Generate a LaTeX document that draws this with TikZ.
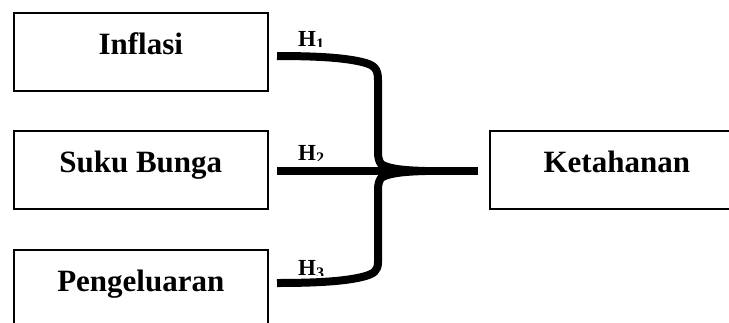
\documentclass[tikz,border=0pt]{standalone}
\usepackage{fontspec}
\setmainfont{Liberation Serif}
\begin{document}
\begin{tikzpicture}[x=1pt,y=-1pt,
  box/.style={draw, line width=1.6pt, minimum width=254pt, minimum height=78pt,
    inner sep=0pt, text height=21pt, text depth=15pt,
    font=\fontsize{31}{36}\selectfont\bfseries, anchor=north west},
  hlab/.style={font=\fontsize{23}{27}\selectfont\bfseries, anchor=base west, inner sep=0pt},
  conn/.style={line width=8pt, line join=round}]
\useasboundingbox (0,0) rectangle (729,322);
\clip (0,0) rectangle (729,322);
\fill[white] (0,0) rectangle (729,322);
% boxes
\node[box] (inf)  at (13,12)  {Inflasi};
\node[box] (suku) at (13,130) {Suku Bunga};
\node[box] (peng) at (13,249) {Pengeluaran};
\node[box] (ket)  at (489,130) {Ketahanan};
% free ends
\coordinate (s1) at (277,56);
\coordinate (s2) at (277,171);
\coordinate (s3) at (277,283);
\coordinate (e)  at (478,171);
% connectors
\draw[conn] (s1) .. controls (320,56) and (345,58) .. (362,62)
  .. controls (374,65) and (378,68) .. (378,80) -- (378,152)
  .. controls (378,163) and (382,168) .. (392,169);
\draw[conn] (s3) .. controls (320,283) and (345,281) .. (362,277)
  .. controls (374,274) and (378,271) .. (378,262) -- (378,190)
  .. controls (378,179) and (382,174) .. (392,173);
\draw[conn] (s2) -- (e);
\fill (378,157) .. controls (386,165) and (400,167) .. (445,167.3)
  -- (445,174.7) .. controls (400,175) and (386,177) .. (378,185) -- cycle;
% labels (subscripts cut at the baseline, as printed)
\begin{scope}
  \clip (290,20) rectangle (340,46.5);
  \node[hlab] (h1) at (298,46) {H\textsubscript{1}};
\end{scope}
\begin{scope}
  \clip (290,135) rectangle (340,160.5);
  \node[hlab] (h2) at (298,160) {H\textsubscript{2}};
\end{scope}
\begin{scope}
  \clip (290,250) rectangle (340,275.5);
  \node[hlab] (h3) at (298,275) {H\textsubscript{3}};
\end{scope}
\end{tikzpicture}
\end{document}
